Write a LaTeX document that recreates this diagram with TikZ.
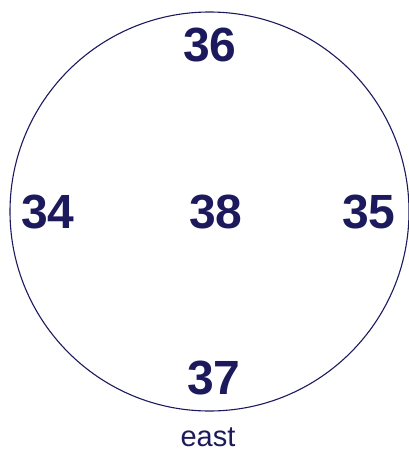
\documentclass[tikz,border=0pt]{standalone}
\usepackage{fontspec}
\setmainfont{Liberation Sans}
\usepackage{tikz}
\usepackage{xcolor}
\definecolor{navy}{HTML}{1C1A5C}

\begin{document}
\begin{tikzpicture}[x=1pt,y=-1pt,
    num/.style={text=navy,font=\fontsize{48}{48}\selectfont\bfseries,inner sep=0pt}]
  \useasboundingbox (0,0) rectangle (409,452);
  \node[draw=navy,line width=1.1pt,circle,minimum size=399pt,inner sep=0pt] (ring) at (209.5,211.5) {};
  \node[num] (n36) at (210,45) {36};
  \node[num] (n34) at (48,212) {34};
  \node[num] (n38) at (216,212) {38};
  \node[num] (n35) at (369,212) {35};
  \node[num] (n37) at (214,378) {37};
  \node[text=navy,font=\fontsize{29}{29}\selectfont,inner sep=0pt] (east) at (208,437) {east};
\end{tikzpicture}
\end{document}
